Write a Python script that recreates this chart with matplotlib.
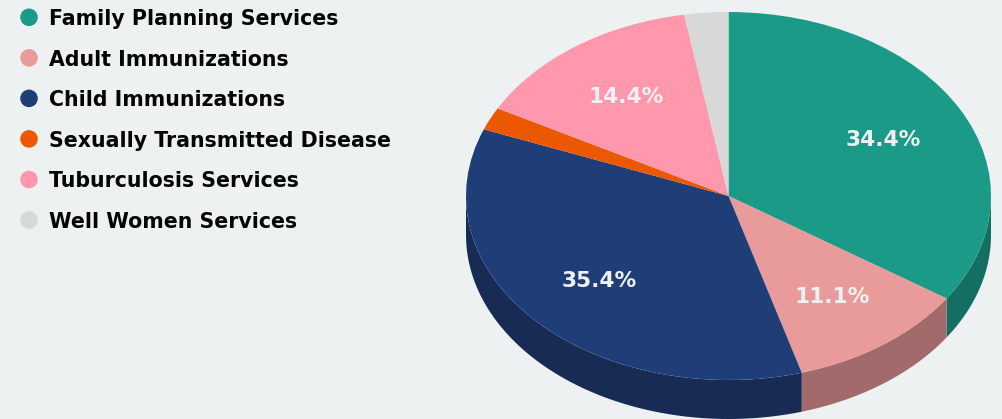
import numpy as np
import matplotlib
matplotlib.use("Agg")
import matplotlib.pyplot as plt

W, H = 1002, 419
BG = "#edf1f2"

services = ["Family Planning Services", "Adult Immunizations", "Child Immunizations",
            "Sexually Transmitted Disease", "Tuburculosis Services", "Well Women Services"]
shares = [34.4, 11.1, 35.4, 2.0, 14.4, 2.7]
colors = ["#1b9a87", "#e99a9a", "#1f3e77", "#ec5800", "#ff98ad", "#d8d8d8"]
side_colors = ["#136f62", "#a26a6a", "#172b55", "#aa4000", "#b86d7d", "#9c9c9c"]

plt.rcParams["font.family"] = ["DejaVu Sans"]
plt.rcParams["font.weight"] = "bold"

fig = plt.figure(figsize=(W / 100, H / 100), dpi=100, facecolor=BG)

# legend column, laid out in pixels
leg = fig.add_axes([0, 0, 1, 1])
leg.set_xlim(0, W)
leg.set_ylim(H, 0)
leg.axis("off")
row_y = np.linspace(17.3, 220, len(services))
leg.scatter([29] * len(services), row_y, s=160, c=colors, linewidths=0)
for name, y in zip(services, row_y):
    leg.text(49.5, y + 1.8, name, fontsize=14.8, color="#050505", va="center", ha="left")

# pie top face fills this box, so the ellipse comes from the axes stretch
ax = fig.add_axes([466 / W, (H - 380) / H, 525 / W, 368 / H])
ax.patch.set_alpha(0)
wedges, _, pct = ax.pie(shares, colors=colors, startangle=90, counterclock=False, radius=1,
                        autopct=lambda p: f"{p:.1f}%" if p > 5 else "", pctdistance=0.67,
                        wedgeprops={"linewidth": 0, "clip_on": False},
                        textprops={"fontsize": 15.6, "color": "#eef1f2", "fontweight": "bold"})
ax.set_aspect("auto")
ax.set_xlim(-1, 1)
ax.set_ylim(-1, 1)
for label in pct:
    px, py = label.get_position()
    label.set_position((px, py - 0.009))

# extruded wall along the front half of the rim
depth = 2 * 39 / 368
edges = np.cumsum([0] + shares) / 100 * 2 * np.pi
for a0, a1, c in zip(edges[:-1], edges[1:], side_colors):
    lo, hi = max(a0, np.pi / 2), min(a1, 3 * np.pi / 2)
    if lo >= hi:
        continue
    t = np.linspace(lo, hi, 120)
    x, y = np.sin(t), np.cos(t)
    ax.fill(np.r_[x, x[::-1]], np.r_[y, y[::-1] - depth], color=c, lw=0, zorder=0.5, clip_on=False)

fig.savefig("out.png", dpi=100, facecolor=BG)
